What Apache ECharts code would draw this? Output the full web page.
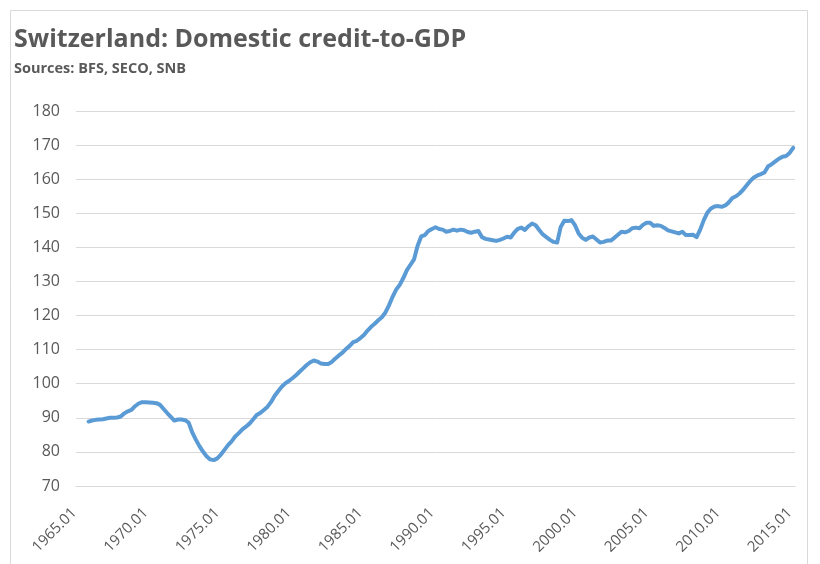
<!DOCTYPE html>
<html>
<head>
<meta charset="utf-8">
<script src="https://cdn.jsdelivr.net/npm/echarts@6/dist/echarts.min.js"></script>
<style>
html, body { margin: 0; padding: 0; background: #fff; }
#main { width: 820px; height: 564px; }
</style>
</head>
<body>
<div id="main"></div>
<script>
var TITLE = 'Switzerland: Domestic credit-to-GDP';
var SUBTITLE = 'Sources: BFS, SECO, SNB';
var FIRST_YEAR = 1965;
var LAST_YEAR = 2015;
var MONTHS = ['01', '04', '07', '10'];

// quarterly credit-to-GDP, 1965.01 .. 2015.01 (one row per year)
var credit = [
	null, null, null, 88.9,
	89.2, 89.4, 89.5, 89.6,
	89.8, 90.0, 90.0, 90.1,
	90.4, 91.3, 91.9, 92.3,
	93.4, 94.2, 94.6, 94.6,
	94.5, 94.4, 94.3, 93.8,
	92.6, 91.4, 90.3, 89.2,
	89.5, 89.5, 89.3, 88.6,
	85.7, 83.6, 81.7, 80.1,
	78.7, 77.8, 77.6, 78.1,
	79.2, 80.6, 82.0, 83.1,
	84.5, 85.5, 86.6, 87.4,
	88.3, 89.5, 90.8, 91.4,
	92.3, 93.2, 94.6, 96.4,
	97.8, 99.1, 100.1, 100.8,
	101.6, 102.5, 103.5, 104.5,
	105.5, 106.3, 106.8, 106.5,
	105.9, 105.8, 105.8, 106.4,
	107.4, 108.3, 109.1, 110.2,
	111.1, 112.2, 112.6, 113.4,
	114.3, 115.6, 116.7, 117.6,
	118.6, 119.5, 120.9, 123.0,
	125.5, 127.6, 129.0, 131.0,
	133.3, 134.9, 136.5, 140.5,
	143.2, 143.6, 144.8, 145.4,
	145.9, 145.4, 145.2, 144.6,
	144.8, 145.2, 144.9, 145.2,
	145.0, 144.5, 144.3, 144.6,
	144.8, 143.0, 142.5, 142.3,
	142.1, 141.9, 142.2, 142.6,
	143.1, 142.9, 144.3, 145.4,
	145.8, 145.1, 146.2, 147.0,
	146.5, 145.1, 143.8, 143.0,
	142.2, 141.6, 141.4, 146.0,
	147.8, 147.7, 148.0, 146.5,
	144.1, 142.8, 142.2, 142.9,
	143.2, 142.3, 141.4, 141.6,
	142.0, 142.0, 142.8, 143.7,
	144.6, 144.4, 144.8, 145.6,
	145.8, 145.6, 146.6, 147.2,
	147.2, 146.3, 146.5, 146.3,
	145.7, 145.0, 144.7, 144.4,
	144.1, 144.6, 143.6, 143.6,
	143.7, 143.0, 145.2, 148.0,
	150.2, 151.4, 152.0, 152.1,
	151.9, 152.3, 153.2, 154.5,
	155.0, 155.8, 156.9, 158.2,
	159.5, 160.5, 161.1, 161.5,
	162.0, 163.8, 164.4, 165.2,
	166.0, 166.6, 166.8, 167.7,
	169.2
];

var categories = [];
for (var y = FIRST_YEAR; y <= LAST_YEAR; y++) {
	for (var q = 0; q < 4; q++) {
		if (y == LAST_YEAR && q > 0) break;
		categories.push(y + '.' + MONTHS[q]);
	}
}

var TEXT = '#595959';
var GRID = '#d9d9d9';
var FONT = '"Open Sans", "Liberation Sans", sans-serif';

var myChart = echarts.init(document.getElementById('main'));
var option = {
	animation: false,
	backgroundColor: '#fff',
	graphic: [{
		type: 'rect',
		shape: { x: 10.5, y: 10.5, width: 797, height: 600 },
		style: { fill: 'none', stroke: GRID, lineWidth: 1 }
	}],
	title: {
		text: TITLE,
		subtext: SUBTITLE,
		left: 9,
		top: 22,
		itemGap: 9,
		textStyle: { color: TEXT, fontFamily: FONT, fontSize: 25, fontWeight: 'bold' },
		subtextStyle: { color: TEXT, fontFamily: FONT, fontSize: 14.5, fontWeight: 'bold' }
	},
	grid: {
		left: 76,
		right: 25,
		top: 111,
		bottom: 78
	},
	xAxis: {
		type: 'category',
		data: categories,
		boundaryGap: true,
		axisLine: { lineStyle: { color: GRID, width: 1 } },
		axisTick: { interval: 3, length: 5, lineStyle: { color: GRID } },
		axisLabel: {
			interval: 19,
			rotate: 45,
			margin: 21,
			padding: [0, 5, 0, 0],
			color: TEXT,
			fontFamily: FONT,
			fontSize: 15
		},
		splitLine: { show: false }
	},
	yAxis: {
		type: 'value',
		min: 70,
		max: 180,
		interval: 10,
		axisLine: { show: false },
		axisTick: { show: false },
		axisLabel: { color: TEXT, fontFamily: FONT, fontSize: 16, margin: 16 },
		splitLine: { lineStyle: { color: GRID, width: 1 } }
	},
	series: [{
		type: 'line',
		data: credit,
		symbol: 'none',
		connectNulls: false,
		lineStyle: { color: '#5b9bd5', width: 4, join: 'round', cap: 'round' }
	}]
};

myChart.setOption(option);
</script>
</body>
</html>
